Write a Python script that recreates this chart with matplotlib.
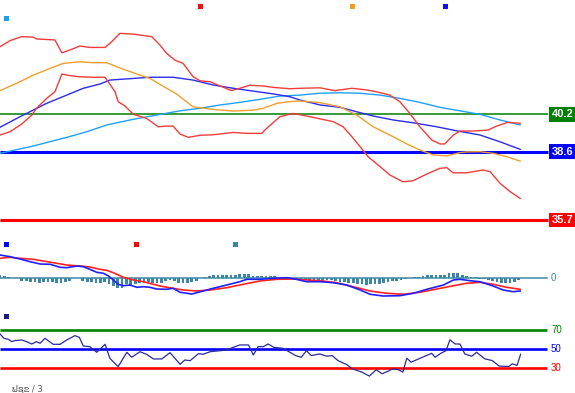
import matplotlib
matplotlib.use("Agg")
import matplotlib.pyplot as plt
import matplotlib.transforms as mtransforms
from matplotlib.patches import Rectangle

# ---------------- data ----------------
# top panel: price indicators (x = bar index)
upper_x = [0, 2.3, 5, 7.6, 8.4, 12.6, 14.2, 16, 18.3, 20.6, 24.1, 25.6, 27.5, 30.5, 34.8, 36.7, 38.2, 40.1, 42,
           44.3, 45.9, 48.2, 50.5, 53.1, 55, 57.3, 60.3, 62.6, 66.5, 68.8, 73.4, 76.8, 80.7, 84.1, 86.4, 89.4,
           91.7, 94, 96.3, 99, 100.9, 102, 104, 105.5, 108.5, 111.9, 113.9, 116.5, 119.3]
upper_v = [43.08, 43.34, 43.51, 43.49, 43.41, 43.37, 42.82, 42.94, 43.11, 43.05, 43.05, 43.29, 43.65, 43.62, 43.51,
           43.15, 42.80, 42.51, 42.37, 41.80, 41.63, 41.59, 41.41, 41.21, 41.31, 41.44, 41.41, 41.35, 41.29, 41.31,
           41.33, 41.21, 41.31, 41.24, 41.16, 41.02, 40.74, 40.24, 39.67, 39.11, 38.94, 38.94, 39.32, 39.49, 39.49,
           39.53, 39.70, 39.86, 39.82]

lower_x = [0, 2.3, 5, 7.3, 8.4, 10.7, 12.6, 14.2, 16, 18.3, 21.4, 24.1, 24.8, 26.4, 27.1, 28.7, 30.6, 33.6, 36.3,
           38.2, 39.7, 41.3, 43.2, 45.9, 48.9, 53.5, 56.6, 60, 61.2, 64.2, 67.2, 71.1, 76.4, 78.7, 80.7, 82.6,
           84.4, 87.2, 89.4, 92.4, 94.7, 97.9, 100.9, 102.5, 103.9, 107, 110.8, 112.4, 114.7, 117, 119.3]
lower_v = [39.32, 39.46, 39.79, 40.17, 40.46, 40.88, 41.16, 41.92, 41.85, 41.80, 41.78, 41.78, 41.59, 41.16, 40.74,
           40.55, 40.20, 40.03, 39.67, 39.70, 39.70, 39.36, 39.22, 39.31, 39.33, 39.43, 39.39, 39.39, 39.61, 40.10,
           40.24, 40.10, 39.89, 39.67, 39.25, 38.82, 38.40, 37.97, 37.62, 37.33, 37.37, 37.66, 37.90, 37.93, 37.71,
           37.71, 37.83, 37.76, 37.26, 36.91, 36.62]

mid_x = [0, 3.8, 7.6, 11.5, 14.5, 18.3, 21.4, 24.5, 28.3, 32.1, 34.4, 38.2, 40.5, 44.3, 48.9, 53.5, 58.1, 60.4,
         63.5, 66.5, 68.8, 73.4, 78, 81.8, 85.6, 89.4, 93.3, 96.3, 99.4, 102.5, 105.5, 107, 110.1, 113.1, 116.2, 119.3]
mid_v = [41.21, 41.52, 41.87, 42.16, 42.37, 42.44, 42.40, 42.40, 42.12, 41.87, 41.73, 41.31, 41.07, 40.52, 40.41,
         40.34, 40.38, 40.46, 40.67, 40.74, 40.77, 40.70, 40.52, 40.17, 39.67, 39.32, 38.94, 38.68, 38.47, 38.43,
         38.57, 38.60, 38.61, 38.54, 38.40, 38.21]

ma1_x = [0, 4.6, 7.6, 10.7, 15.3, 19.1, 22.9, 25.2, 30.6, 34.4, 39.7, 44.3, 48.9, 53.5, 58.1, 62.7, 66.5, 68.8,
         73.4, 78, 81.8, 85.6, 90.2, 94.8, 100.2, 104.7, 110.1, 114.7, 119.3]
ma1_v = [39.65, 40.10, 40.38, 40.67, 41.02, 41.31, 41.49, 41.66, 41.73, 41.78, 41.78, 41.66, 41.45, 41.31, 41.19,
         41.07, 40.95, 40.81, 40.60, 40.50, 40.31, 40.13, 39.96, 39.84, 39.67, 39.50, 39.32, 39.03, 38.71]

ma2_x = [0, 7.6, 15.3, 19.9, 24.5, 30.6, 35.9, 41.3, 45.9, 50.5, 55, 59.6, 64.2, 68.8, 73.4, 78, 82.6, 87.2,
         91.7, 95.6, 100.9, 105.5, 110.1, 114.7, 119.3]
ma2_v = [38.54, 38.85, 39.22, 39.46, 39.75, 39.99, 40.17, 40.35, 40.46, 40.60, 40.71, 40.84, 40.98, 41.02, 41.10,
         41.12, 41.10, 41.02, 40.88, 40.74, 40.50, 40.35, 40.20, 39.96, 39.75]

levels = [40.2, 38.6, 35.7]
level_labels = ["40.2", "38.6", "35.7"]

# MACD panel
macd_x = [0, 2.3, 4.6, 6.9, 9.2, 11.5, 13.8, 15.3, 17.6, 19.1, 20.6, 22.2, 23.7, 24.8, 26, 27.1, 28.3, 29.8, 31.4,
          32.9, 34.4, 35.9, 38.2, 39.7, 41.3, 44, 46.6, 48.9, 52, 55, 56.6, 59.6, 62.7, 65.8, 68, 70.3, 73.4, 76.4,
          79.5, 82.6, 84.9, 87.9, 91.7, 94.8, 97.9, 101.7, 104, 105.5, 107.8, 110.1, 113.1, 115.4, 117.7, 119.3]
macd_v = [0.233, 0.216, 0.193, 0.166, 0.143, 0.14, 0.11, 0.106, 0.123, 0.116, 0.09, 0.06, 0.05, 0.026, -0.017,
          -0.06, -0.074, -0.067, -0.09, -0.084, -0.09, -0.107, -0.11, -0.10, -0.14, -0.157, -0.127, -0.10, -0.067,
          -0.034, -0.01, -0.01, 0.0, 0.006, -0.01, -0.034, -0.034, -0.044, -0.067, -0.117, -0.16, -0.177, -0.174,
          -0.15, -0.11, -0.067, -0.017, -0.01, -0.024, -0.034, -0.077, -0.117, -0.134, -0.127]
signal_x = [0, 2.3, 4.6, 7.6, 9.9, 13, 15.3, 18.3, 20.6, 22.9, 24.5, 26, 28.3, 30.6, 32.9, 35.2, 36.7, 39.7, 42,
            45.1, 48.2, 52, 55.8, 59.6, 63.5, 67.3, 70.3, 73.4, 77.2, 81, 84.9, 88.7, 92.5, 96.3, 100.2, 104, 107,
            110.1, 113.1, 116.2, 119.3]
signal_v = [0.20, 0.21, 0.20, 0.19, 0.173, 0.15, 0.133, 0.123, 0.113, 0.09, 0.08, 0.056, 0.01, -0.017, -0.034,
            -0.06, -0.077, -0.10, -0.117, -0.127, -0.117, -0.094, -0.06, -0.027, -0.01, -0.007, -0.017, -0.024,
            -0.044, -0.084, -0.127, -0.15, -0.16, -0.14, -0.107, -0.074, -0.05, -0.04, -0.06, -0.09, -0.11]
hist_v = [0.033, 0.023, 0.013, 0, 0, -0.027, -0.027, -0.037, -0.037, -0.043, -0.037, -0.037, -0.037, -0.043,
          -0.043, -0.033, -0.027, 0, 0, -0.023, -0.037, -0.037, -0.043, -0.043, -0.037, -0.053, -0.073, -0.093,
          -0.093, -0.06, -0.077, -0.06, -0.043, -0.043, -0.037, -0.043, -0.043, -0.043, -0.027, -0.02, -0.027,
          -0.043, -0.043, -0.043, -0.033, -0.023, 0, 0.01, 0.02, 0.03, 0.03, 0.03, 0.037, 0.037, 0.037, 0.043,
          0.043, 0.043, 0.023, 0.023, 0.023, 0.023, 0.023, 0.023, 0.007, 0, -0.007, -0.01, -0.01, -0.01, -0.013,
          -0.013, -0.017, -0.02, -0.027, -0.02, -0.02, -0.027, -0.037, -0.037, -0.043, -0.043, -0.053, -0.053,
          -0.063, -0.053, -0.053, -0.053, -0.043, -0.037, -0.027, -0.027, -0.02, -0.01, 0.007, 0.013, 0.013,
          0.027, 0.033, 0.033, 0.033, 0.033, 0.033, 0.053, 0.053, 0.053, 0.037, 0.02, 0.013, 0.013, -0.007,
          -0.01, -0.02, -0.027, -0.037, -0.043, -0.043, -0.043, -0.037, -0.02]

# RSI panel
rsi_x = [0, 0.9, 1.9, 2.7, 3.4, 5, 6.1, 7.3, 8.3, 9.2, 10.3, 12.2, 13.8, 15.3, 17.2, 18.2, 19.1, 20.6, 22.2, 24.1,
         25.2, 27.1, 29.1, 30.2, 32.1, 33.6, 35.2, 37.1, 39, 41.3, 42.4, 43.6, 45.5, 46.6, 48.2, 52, 53.5, 55, 57,
         58.1, 59.2, 60.4, 61.5, 62.8, 64.9, 66.5, 67.8, 69.1, 70.3, 71.4, 73.3, 75, 76.2, 77.5, 79.6, 80.8, 83,
         84.7, 86.3, 87.6, 88.9, 90.1, 91.4, 92.4, 93.3, 94.3, 96.9, 99, 99.8, 101.1, 102.3, 103.2, 104.4, 105.5,
         106.6, 108.2, 109.3, 111.2, 112.9, 114.5, 116.7, 117.5, 118.6, 119.4]
rsi_v = [66, 61.4, 60.3, 57.8, 58.9, 59.6, 57.8, 55.3, 57.8, 56.1, 61.4, 55, 55, 59.6, 64.2, 62.4, 53.2, 52.5,
         46.5, 55, 40.1, 31.2, 46.5, 41.2, 47.1, 44.4, 39.4, 39.4, 46.1, 33.7, 38.3, 37.6, 45, 44.4, 47.1, 48.9,
         51.8, 54.3, 54.3, 43.6, 52.5, 52.5, 55.3, 51.8, 50.7, 46.5, 43, 41.2, 48.2, 43, 44.7, 42.3, 43, 37.7,
         33.2, 28.9, 25.4, 21.2, 27.9, 23.7, 26.1, 28.9, 27.9, 25.4, 40.2, 36, 41.2, 45.4, 41.2, 45.4, 48.2, 59.8,
         55.3, 55.3, 44.7, 42.3, 46.5, 39.5, 37.7, 31.8, 31.4, 34.2, 32.5, 44.4]
rsi_levels = [70, 50, 30]

footer_text = "ຟຊຂ / 3"

# ---------------- layout helpers ----------------
W, H = 575, 393
PX_PER_BAR = 4.36
XMAX = W / PX_PER_BAR
LINE_END = 548 / PX_PER_BAR

fig = plt.figure(figsize=(W / 100, H / 100), dpi=100)
fig.patch.set_facecolor("white")


def add_axes(top_px, bottom_px):
    ax = fig.add_axes([0, 1 - bottom_px / H, 1, (bottom_px - top_px) / H])
    ax.set_axis_off()
    ax.set_xlim(0, XMAX)
    return ax


def square(x_px, y_px, color, size=5):
    fig.add_artist(Rectangle(((x_px - size / 2) / W, 1 - (y_px + size / 2) / H), size / W, size / H,
                             transform=fig.transFigure, facecolor=color, edgecolor="none"))


LBL = ["Liberation Sans", "DejaVu Sans"]

# ---------------- top panel ----------------
ax1 = add_axes(0, 232)
ax1.set_ylim(35.19, 45.07)
lvl_colors = ["#008000", "#0000ff", "#ff0000"]
lvl_widths = [1.1, 2.2, 2.2]
for lv, lab, c, lw in zip(levels, level_labels, lvl_colors, lvl_widths):
    ax1.plot([0, LINE_END], [lv, lv], color=c, lw=lw, solid_capstyle="butt", zorder=1)
    trans = mtransforms.blended_transform_factory(ax1.transAxes, ax1.transData)
    ax1.text(0.997, lv, lab, transform=trans, ha="right", va="center", color="white", fontsize=8,
             fontweight="bold", family=LBL,
             bbox=dict(boxstyle="square,pad=0.22", fc=c, ec="none"), zorder=5)

ax1.plot(ma2_x, ma2_v, color="#1fa0f5", lw=1.0, zorder=2)
ax1.plot(ma1_x, ma1_v, color="#2b2bf0", lw=1.0, zorder=2)
ax1.plot(mid_x, mid_v, color="#f0a02a", lw=1.0, zorder=2)
ax1.plot(upper_x, upper_v, color="#f23c3c", lw=1.0, zorder=3)
ax1.plot(lower_x, lower_v, color="#f23c3c", lw=1.0, zorder=3)

square(200, 6, "#ee1111")
square(352, 6, "#f39c1a")
square(445, 6, "#1010ee")
square(6.5, 18, "#18a0f5")

# ---------------- MACD panel ----------------
ax2 = add_axes(236, 306)
ax2.set_ylim(-0.277, 0.423)
teal = "#3d87a6"
ax2.bar(range(len(hist_v)), hist_v, width=0.62, color=teal, zorder=1)
ax2.plot([0, 546.7 / PX_PER_BAR], [0, 0], color=teal, lw=1.1, zorder=2)
ax2.plot(signal_x, signal_v, color="#ff2020", lw=1.2, zorder=3)
ax2.plot(macd_x, macd_v, color="#2020ff", lw=1.2, zorder=4)
ax2.text(551 / W, 0, "0", transform=mtransforms.blended_transform_factory(ax2.transAxes, ax2.transData),
         ha="left", va="center", color=teal, fontsize=7, family=LBL)
square(6.3, 244.3, "#0000ff")
square(136.3, 244.3, "#ff0000")
square(235.3, 244.3, teal)

# ---------------- RSI panel ----------------
ax3 = add_axes(310, 380)
ax3.set_ylim(17.0, 91.5)
rsi_colors = ["#008000", "#0000ff", "#ff0000"]
for lv, c in zip(rsi_levels, rsi_colors):
    ax3.plot([0, 546.7 / PX_PER_BAR], [lv, lv], color=c, lw=1.9, solid_capstyle="butt", zorder=1)
    ax3.text(551 / W, lv, str(lv), transform=mtransforms.blended_transform_factory(ax3.transAxes, ax3.transData),
             ha="left", va="center", color=c, fontsize=7, family=LBL)
ax3.plot(rsi_x, rsi_v, color="#2a2aa0", lw=0.9, zorder=2)
square(6.2, 316.4, "#1a1a8a")

fig.text(12 / W, 1 - 389 / H, footer_text, fontsize=6, color="#555555", va="center", ha="left",
         family=["DejaVu Sans", "Noto Sans", "Noto Sans CJK SC"])

fig.savefig("out.png", dpi=100, facecolor="white")
